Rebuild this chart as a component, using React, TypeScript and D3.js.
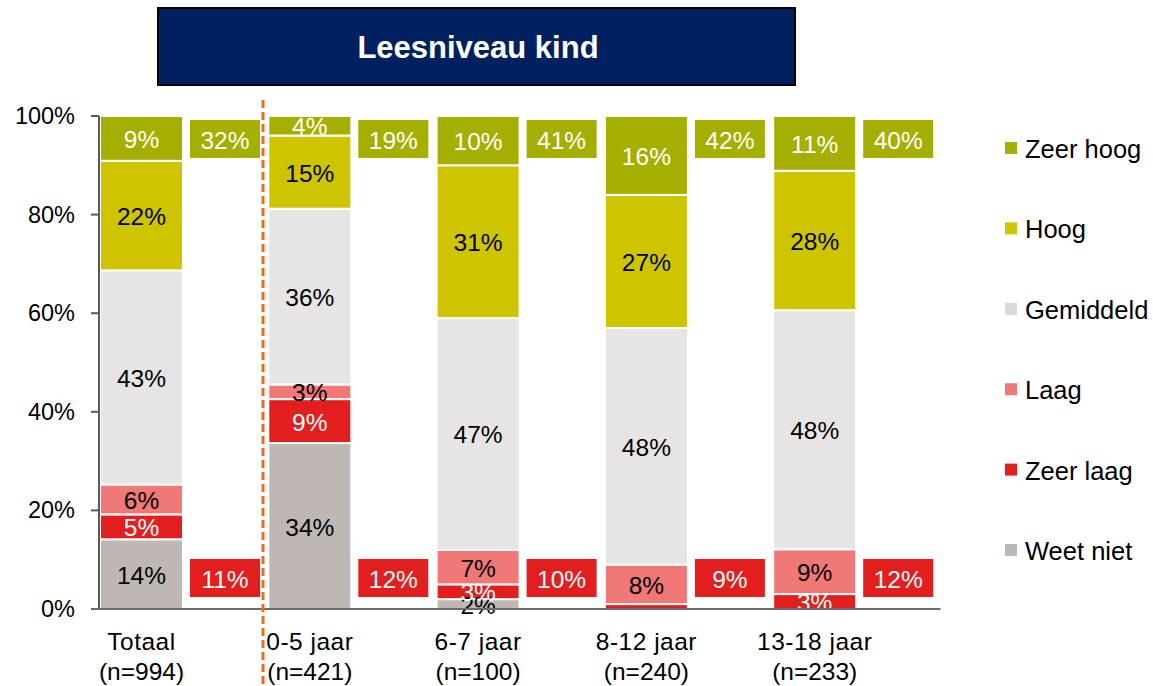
import React from 'react';
import * as d3 from 'd3';

const groups = ['Totaal', '0-5 jaar', '6-7 jaar', '8-12 jaar', '13-18 jaar'];
const groupN = ['(n=994)', '(n=421)', '(n=100)', '(n=240)', '(n=233)'];

// series, bottom to top
const keys = ['Weet niet', 'Zeer laag', 'Laag', 'Gemiddeld', 'Hoog', 'Zeer hoog'];
const weetNiet = [14, 34, 2, 0, 0];
const zeerLaag = [5, 9, 3, 1, 3];
const laag = [6, 3, 7, 8, 9];
const gemiddeld = [43, 36, 47, 48, 48];
const hoog = [22, 15, 31, 27, 28];
const zeerHoog = [9, 4, 10, 16, 11];

// summary boxes next to each bar
const topTotals = [32, 19, 41, 42, 40];
const lowTotals = [11, 12, 10, 9, 12];

const yTicks = [0, 0.2, 0.4, 0.6, 0.8, 1];

const colors = {
  'Zeer hoog': '#A4AF00',
  Hoog: '#CFC400',
  Gemiddeld: '#E6E5E4',
  Laag: '#F07877',
  'Zeer laag': '#E21E1E',
  'Weet niet': '#BFB7B4',
};
const legendColors = { ...colors, Gemiddeld: '#D9D9D9' };
const textColors = {
  'Zeer hoog': '#ffffff',
  Hoog: '#000000',
  Gemiddeld: '#000000',
  Laag: '#000000',
  'Zeer laag': '#ffffff',
  'Weet niet': '#000000',
};

const font = "'Liberation Sans', Arial, sans-serif";
const labelSize = 24.5;

export default function App() {
  const width = 1153;
  const height = 686;
  const y0 = 609;
  const y1 = 116;
  const xLeft = 99;
  const step = 168.3;

  const rows = groups.map((g, i) => ({
    group: g,
    'Weet niet': weetNiet[i],
    'Zeer laag': zeerLaag[i],
    Laag: laag[i],
    Gemiddeld: gemiddeld[i],
    Hoog: hoog[i],
    'Zeer hoog': zeerHoog[i],
  }));

  const series = d3.stack().keys(keys).offset(d3.stackOffsetExpand)(rows as any);

  const x = d3
    .scaleBand()
    .domain(groups)
    .range([xLeft, xLeft + step * groups.length])
    .paddingInner(0)
    .paddingOuter(0);
  const y = d3.scaleLinear().domain([0, 1]).range([y0, y1]);

  const barW = 83;
  const boxOff = 91;
  const boxW = 70;
  const fmt = d3.format('.0%');

  return (
    <svg width={width} height={height} style={{ position: 'absolute', left: 0, top: 0, fontFamily: font }}>
      <rect x={0} y={0} width={width} height={height} fill="#ffffff" />

      {/* title */}
      <rect x={158} y={8} width={637} height={77} fill="#002060" stroke="#000000" strokeWidth={2} />
      <text x={478} y={47} textAnchor="middle" dominantBaseline="central" fill="#ffffff" fontSize={31} fontWeight="bold">
        Leesniveau kind
      </text>

      {/* bars */}
      {series.map((s) => (
        <g key={s.key}>
          {s.map((d, i) => {
            const bx = (x(groups[i]) as number) + 1;
            const top = y(d[1]);
            const bot = y(d[0]);
            const h = bot - top;
            if (h <= 0) return null;
            return (
              <rect key={i} x={bx} y={top} width={barW} height={h} fill={colors[s.key]} stroke="#ffffff" strokeWidth={2} />
            );
          })}
        </g>
      ))}

      {/* segment labels */}
      {series.map((s) => (
        <g key={s.key + '-lbl'}>
          {s.map((d, i) => {
            const v = (d.data as any)[s.key];
            if (v < 2) return null;
            const bx = (x(groups[i]) as number) + 1;
            return (
              <text
                key={i}
                x={bx + barW / 2}
                y={(y(d[0]) + y(d[1])) / 2 + 1}
                textAnchor="middle"
                dominantBaseline="central"
                fontSize={labelSize}
                fill={textColors[s.key]}
              >
                {v}%
              </text>
            );
          })}
        </g>
      ))}

      {/* summary boxes */}
      {groups.map((g, i) => {
        const bx = (x(g) as number) + boxOff;
        return (
          <g key={g + '-box'}>
            <rect x={bx} y={120} width={boxW} height={38} fill={colors['Zeer hoog']} />
            <text x={bx + boxW / 2} y={140} textAnchor="middle" dominantBaseline="central" fontSize={labelSize} fill="#ffffff">
              {topTotals[i]}%
            </text>
            <rect x={bx} y={559} width={boxW} height={38} fill={colors['Zeer laag']} />
            <text x={bx + boxW / 2} y={579} textAnchor="middle" dominantBaseline="central" fontSize={labelSize} fill="#ffffff">
              {lowTotals[i]}%
            </text>
          </g>
        );
      })}

      {/* y axis */}
      <line x1={xLeft} x2={xLeft} y1={y1} y2={y0} stroke="#595959" strokeWidth={2} />
      {yTicks.map((t) => (
        <g key={t}>
          <line x1={xLeft - 8} x2={xLeft} y1={y(t)} y2={y(t)} stroke="#595959" strokeWidth={2} />
          <text x={75} y={y(t)} textAnchor="end" dominantBaseline="central" fontSize={23.5} fill="#000000">
            {fmt(t)}
          </text>
        </g>
      ))}

      {/* x axis */}
      <line x1={xLeft - 8} x2={xLeft + step * groups.length} y1={y0} y2={y0} stroke="#6b6b6b" strokeWidth={2} />
      {groups.map((g, i) => {
        const cx = (x(g) as number) + 1 + barW / 2;
        return (
          <g key={g + '-x'}>
            <text x={cx} y={641} textAnchor="middle" dominantBaseline="central" fontSize={24.5} letterSpacing={0.5}>
              {g}
            </text>
            <text x={cx} y={671} textAnchor="middle" dominantBaseline="central" fontSize={24.5}>
              {groupN[i]}
            </text>
          </g>
        );
      })}

      {/* separator */}
      <line x1={263} x2={263} y1={100} y2={686} stroke="#F26B1D" strokeWidth={3} strokeDasharray="8,4" />

      {/* legend */}
      {keys
        .slice()
        .reverse()
        .map((k, i) => {
          const ly = 148 + i * 80.4;
          return (
            <g key={k + '-leg'}>
              <rect x={1005} y={ly - 6} width={12} height={12} fill={legendColors[k]} />
              <text x={1025} y={ly + 1} dominantBaseline="central" fontSize={25.5}>
                {k}
              </text>
            </g>
          );
        })}
    </svg>
  );
}
